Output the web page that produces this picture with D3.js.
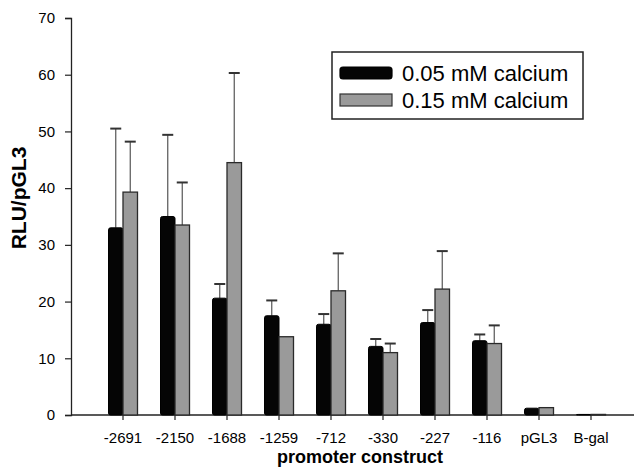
<!DOCTYPE html>
<html>
<head>
<meta charset="utf-8">
<script src="https://cdn.jsdelivr.net/npm/d3@7.9.0/dist/d3.min.js"></script>
<style>
  body { margin: 0; background: #fff; }
  svg text { font-family: "Liberation Sans", Arial, sans-serif; fill: #000; }
</style>
</head>
<body>
<svg width="634" height="473"></svg>
<script>
// Data
const constructs = ['-2691', '-2150', '-1688', '-1259', '-712', '-330', '-227', '-116', 'pGL3', 'B-gal'];
const seriesNames = ['0.05 mM calcium', '0.15 mM calcium'];
const low = [33.0, 35.0, 20.6, 17.5, 16.0, 12.1, 16.3, 13.1, 1.2, 0.1];
const lowErr = [17.5, 14.4, 2.5, 2.7, 1.8, 1.3, 2.2, 1.1, 0, 0];
const high = [39.3, 33.5, 44.5, 13.8, 21.9, 11.0, 22.2, 12.6, 1.3, 0.1];
const highErr = [8.9, 7.5, 15.8, 0, 6.6, 1.6, 6.7, 3.2, 0, 0];
const yTicks = [0, 10, 20, 30, 40, 50, 60, 70];

const colors = ['#050505', '#9a9a9a'];

const svg = d3.select('svg');
const plot = { left: 71, right: 634, top: 18, bottom: 415 };

// Scales
let x = d3.scaleBand()
  .domain(constructs)
  .range([plot.left, plot.left + 52 * 11])
  .paddingInner(0)
  .paddingOuter(0.5);

let y = d3.scaleLinear()
  .domain([0, 70])
  .range([plot.bottom, plot.top]);

const barW = 14.5;

// Axes
let yAxis = svg.append('g')
  .attr('transform', `translate(${plot.left},0)`)
  .call(d3.axisLeft(y).tickValues(yTicks).tickSize(6).tickPadding(10));
yAxis.select('.domain').attr('stroke', '#222').attr('stroke-width', 1.3);
yAxis.selectAll('.tick line').attr('stroke', '#222').attr('stroke-width', 1.2);
yAxis.selectAll('.tick text')
  .attr('font-size', 15)
  .attr('font-family', '"Liberation Sans", Arial, sans-serif')
  .attr('fill', '#000');

let xAxis = svg.append('g')
  .attr('transform', `translate(0,${plot.bottom})`)
  .call(d3.axisBottom(x).tickSize(5).tickPadding(12).tickSizeOuter(0));
xAxis.select('.domain').remove();
xAxis.append('line')
  .attr('x1', plot.left).attr('x2', plot.right)
  .attr('stroke', '#222').attr('stroke-width', 1.3);
xAxis.selectAll('.tick line').attr('stroke', '#222').attr('stroke-width', 1.2);
xAxis.selectAll('.tick text')
  .attr('font-size', 15)
  .attr('font-family', '"Liberation Sans", Arial, sans-serif')
  .attr('fill', '#000');

// Bars and error bars
const series = [
  { values: low, errs: lowErr, offset: -barW },
  { values: high, errs: highErr, offset: 0 },
];

series.forEach((s, si) => {
  let g = svg.append('g');
  constructs.forEach((c, i) => {
    let bx = x(c) + x.bandwidth() / 2 + s.offset;
    let v = s.values[i];
    let e = s.errs[i];
    if (e > 0) {
      let xm = bx + barW / 2;
      g.append('line')
        .attr('x1', xm).attr('x2', xm)
        .attr('y1', y(v)).attr('y2', y(v + e))
        .attr('stroke', '#555').attr('stroke-width', 1.2);
      g.append('line')
        .attr('x1', xm - 5.5).attr('x2', xm + 5.5)
        .attr('y1', y(v + e)).attr('y2', y(v + e))
        .attr('stroke', '#333').attr('stroke-width', 2);
    }
    g.append('rect')
      .attr('x', bx)
      .attr('y', y(v))
      .attr('width', barW)
      .attr('height', Math.max(0.6, y(0) - y(v)))
      .attr('rx', si === 0 ? 2 : 0)
      .attr('fill', colors[si])
      .attr('stroke', si === 0 ? '#000' : '#2a2a2a')
      .attr('stroke-width', si === 0 ? 1 : 1.3);
  });
});

// Axis titles
svg.append('text')
  .attr('transform', 'translate(26,198) rotate(-90)')
  .attr('text-anchor', 'middle')
  .attr('font-size', 21)
  .attr('font-weight', 'bold')
  .text('RLU/pGL3');

svg.append('text')
  .attr('x', 360)
  .attr('y', 463)
  .attr('text-anchor', 'middle')
  .attr('font-size', 18)
  .attr('font-weight', 'bold')
  .text('promoter construct');

// Legend
let legend = svg.append('g');
legend.append('rect')
  .attr('x', 332).attr('y', 52)
  .attr('width', 251).attr('height', 67)
  .attr('fill', '#fff')
  .attr('stroke', '#222').attr('stroke-width', 1.5);

seriesNames.forEach((name, i) => {
  let ly = 67 + i * 27;
  legend.append('rect')
    .attr('x', 340).attr('y', ly)
    .attr('width', 52).attr('height', 12)
    .attr('rx', i === 0 ? 3 : 0)
    .attr('fill', colors[i])
    .attr('stroke', i === 0 ? '#000' : '#333')
    .attr('stroke-width', 1.2);
  legend.append('text')
    .attr('x', 402)
    .attr('y', ly + 14)
    .attr('font-size', 22)
    .text(name);
});
</script>
</body>
</html>
